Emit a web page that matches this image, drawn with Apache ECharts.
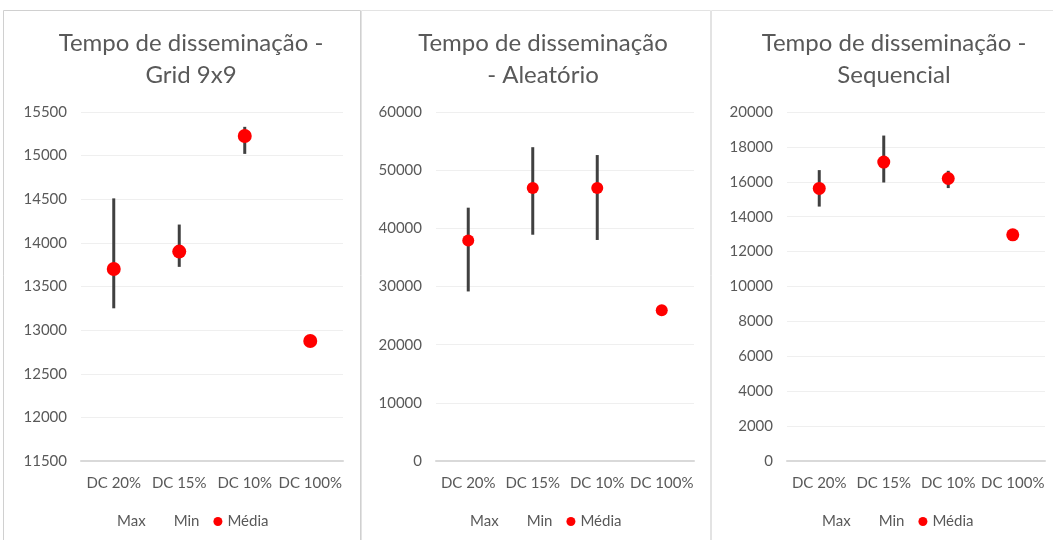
<!DOCTYPE html>
<html>
<head>
<meta charset="utf-8">
<script src="https://cdn.jsdelivr.net/npm/echarts@6/dist/echarts.min.js"></script>
<style>
  html, body { margin: 0; padding: 0; background: #fff; }
  #main { width: 1053px; height: 540px; }
</style>
</head>
<body>
<div id="main"></div>
<script>
// categorias (eixo x)
const categories = ['DC 20%', 'DC 15%', 'DC 10%', 'DC 100%']

// Grid 9x9
const gridMax = [14510, 14210, 15330, 12875]
const gridMin = [13250, 13725, 15020, 12875]
const gridMean = [13700, 13900, 15225, 12875]

// Aleatório
const randMax = [43550, 53950, 52600, 25900]
const randMin = [29150, 38900, 38000, 25900]
const randMean = [37900, 46950, 46950, 25900]

// Sequencial
const seqMax = [16670, 18650, 16630, 12960]
const seqMin = [14580, 15960, 15640, 12960]
const seqMean = [15620, 17130, 16190, 12960]

const titles = [
  'Tempo de disseminação -\nGrid 9x9',
  'Tempo de disseminação\n- Aleatório',
  'Tempo de disseminação -\nSequencial'
]

const panels = [
  { max: gridMax, min: gridMin, mean: gridMean, yMin: 11500, yMax: 15500, step: 500,
    left: 81, right: 1053 - 343, titleX: 186, legendX: 103, dot: 14 },
  { max: randMax, min: randMin, mean: randMean, yMin: 0, yMax: 60000, step: 10000,
    left: 436, right: 1053 - 694, titleX: 538, legendX: 456, dot: 12 },
  { max: seqMax, min: seqMin, mean: seqMean, yMin: 0, yMax: 20000, step: 2000,
    left: 787, right: 1053 - 1045, titleX: 889, legendX: 808, dot: 13 }
]

const textColor = '#595959'
const font = 'Lato, "Open Sans", sans-serif'

const chart = echarts.init(document.getElementById('main'))

const grid = []
const xAxis = []
const yAxis = []
const series = []
const title = []
const legend = []

panels.forEach((p, i) => {
  grid.push({ left: p.left, right: p.right, top: 112, bottom: 79 })
  xAxis.push({
    type: 'category',
    gridIndex: i,
    data: categories,
    axisTick: { show: false },
    axisLine: { lineStyle: { color: '#d9d9d9', width: 2 } },
    axisLabel: { color: textColor, fontSize: 15, fontFamily: font, margin: 15, interval: 0 }
  })
  yAxis.push({
    type: 'value',
    gridIndex: i,
    min: p.yMin,
    max: p.yMax,
    interval: p.step,
    axisLine: { show: false },
    axisTick: { show: false },
    axisLabel: {
      color: textColor, fontSize: 15, fontFamily: font, margin: 14,
      formatter: (v) => String(v)
    },
    splitLine: { lineStyle: { color: '#efefef', width: 1 } }
  })
  title.push({
    text: titles[i],
    left: p.titleX,
    top: 22,
    textAlign: 'center',
    textStyle: { color: textColor, fontSize: 24, fontWeight: 'normal', fontFamily: font, lineHeight: 32 }
  })
  legend.push({
    left: p.legendX,
    top: 514,
    padding: 0,
    itemWidth: 9,
    itemHeight: 9,
    itemGap: 14,
    textStyle: { color: textColor, fontSize: 15, fontFamily: font },
    data: [
      { name: 'Max', icon: 'none' },
      { name: 'Min', icon: 'none' },
      { name: 'Média', icon: 'circle' }
    ]
  })

  // linhas max-min
  series.push({
    type: 'custom',
    xAxisIndex: i,
    yAxisIndex: i,
    silent: true,
    z: 2,
    data: categories.map((c, k) => [k, p.min[k], p.max[k]]),
    encode: { x: 0, y: [1, 2] },
    renderItem(params, api) {
      const lo = api.coord([api.value(0), api.value(1)])
      const hi = api.coord([api.value(0), api.value(2)])
      return {
        type: 'line',
        shape: { x1: lo[0], y1: lo[1], x2: hi[0], y2: hi[1] },
        style: { stroke: '#404040', lineWidth: 3 }
      }
    }
  })
  series.push({
    name: 'Max', type: 'line', xAxisIndex: i, yAxisIndex: i,
    data: p.max, symbol: 'none', lineStyle: { opacity: 0 }, color: 'transparent'
  })
  series.push({
    name: 'Min', type: 'line', xAxisIndex: i, yAxisIndex: i,
    data: p.min, symbol: 'none', lineStyle: { opacity: 0 }, color: 'transparent'
  })
  series.push({
    name: 'Média', type: 'scatter', xAxisIndex: i, yAxisIndex: i, z: 3,
    data: p.mean, symbol: 'circle', symbolSize: p.dot,
    itemStyle: { color: '#ff0000', opacity: 1 }
  })
})

chart.setOption({
  animation: false,
  backgroundColor: '#fff',
  title,
  legend,
  grid,
  xAxis,
  yAxis,
  series,
  graphic: [
    { type: 'rect', shape: { x: 3.5, y: 10.5, width: 357, height: 540 },
      style: { fill: null, stroke: '#d0d0d0', lineWidth: 1 }, silent: true },
    { type: 'rect', shape: { x: 361.5, y: 10.5, width: 349, height: 540 },
      style: { fill: null, stroke: '#e3e3e3', lineWidth: 1 }, silent: true },
    { type: 'rect', shape: { x: 711.5, y: 10.5, width: 345, height: 540 },
      style: { fill: null, stroke: '#e3e3e3', lineWidth: 1 }, silent: true }
  ]
})
</script>
</body>
</html>
